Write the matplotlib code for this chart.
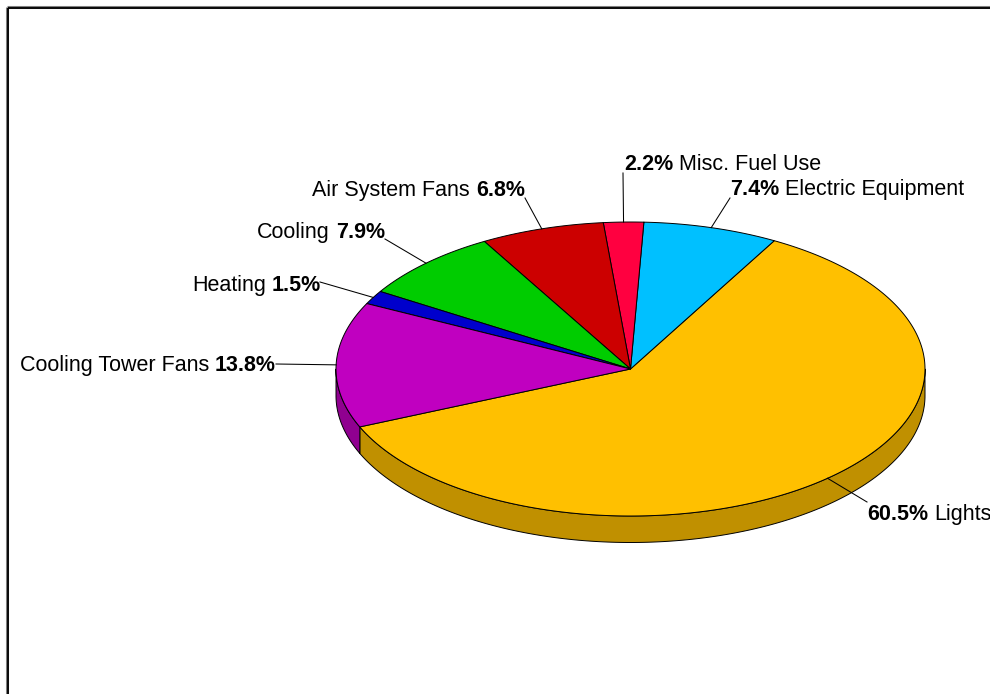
import numpy as np
import matplotlib
matplotlib.use("Agg")
import matplotlib.pyplot as plt
from matplotlib.patches import Polygon

# ---- data ----
categories = ["Lights", "Electric Equipment", "Misc. Fuel Use", "Air System Fans",
              "Cooling", "Heating", "Cooling Tower Fans"]
shares = [60.5, 7.4, 2.2, 6.8, 7.9, 1.5, 13.8]
top_colors = ["#FFC000", "#00C0FF", "#FF0040", "#CC0000", "#00CC00", "#0000CC", "#C000C0"]
side_colors = ["#C09000", "#0090C0", "#C00030", "#990000", "#009900", "#000099", "#900090"]

# ---- layout (pixels) ----
W, H = 990, 694
cx, cy, rx, ry, depth = 630.5, 369.0, 294.5, 147.0, 26.5
start_angle = -156.8
leader_end = [(867, 502), (730, 198), (623, 173), (525, 198), (385, 239), (320, 282), (276, 364)]
text_x = [867, 730, 624, 525, 385, 321, 276]
text_base = [520, 194.5, 170, 195.5, 237.5, 290.5, 371]
text_side = ['R', 'R', 'R', 'L', 'L', 'L', 'L']
FS = 15.5
plt.rcParams['font.family'] = ['Liberation Sans', 'DejaVu Sans']

fig = plt.figure(figsize=(W / 100, H / 100), dpi=100)
ax = fig.add_axes([0, 0, 1, 1])
ax.set_xlim(0, W)
ax.set_ylim(H, 0)
ax.axis('off')

def pt(theta_deg, dy=0.0):
    t = np.radians(theta_deg)
    return cx + rx * np.cos(t), cy - ry * np.sin(t) + dy

vals = np.array(shares, dtype=float)
spans = vals / vals.sum() * 360.0
edges = start_angle + np.concatenate([[0], np.cumsum(spans)])

# sides (visible front half: sin(theta) < 0)
for i in range(len(vals)):
    a, b = edges[i], edges[i + 1]
    for k in (-1, 0, 1):
        lo, hi = max(a, -180 + 360 * k), min(b, 0 + 360 * k)
        if hi > lo:
            th = np.linspace(lo, hi, 200)
            xs, ys = pt(th)
            xb, yb = pt(th[::-1], depth)
            poly = np.column_stack([np.concatenate([xs, xb]), np.concatenate([ys, yb])])
            ax.add_patch(Polygon(poly, closed=True, facecolor=side_colors[i],
                                 edgecolor='black', lw=0.7, zorder=1, joinstyle='round'))

# tops
for i in range(len(vals)):
    a, b = edges[i], edges[i + 1]
    th = np.linspace(a, b, 300)
    xs, ys = pt(th)
    poly = np.column_stack([np.concatenate([[cx], xs]), np.concatenate([[cy], ys])])
    ax.add_patch(Polygon(poly, closed=True, facecolor=top_colors[i],
                         edgecolor='black', lw=0.7, zorder=2, joinstyle='round'))

# labels and leaders
fig.canvas.draw()
renderer = fig.canvas.get_renderer()
for i, name in enumerate(categories):
    mid = (edges[i] + edges[i + 1]) / 2
    x0, y0 = pt(mid)
    ex, ey = leader_end[i]
    ax.plot([x0, ex], [y0, ey], color='black', lw=0.75, zorder=3)
    pct = f"{shares[i]:.1f}%"
    if text_side[i] == 'R':
        t1 = ax.text(text_x[i], text_base[i], pct, fontsize=FS, fontweight='bold',
                     ha='left', va='baseline', zorder=4)
        w = t1.get_window_extent(renderer).width
        ax.text(text_x[i] + w + 6, text_base[i], name, fontsize=FS,
                ha='left', va='baseline', zorder=4)
    else:
        t1 = ax.text(text_x[i], text_base[i], pct, fontsize=FS, fontweight='bold',
                     ha='right', va='baseline', zorder=4)
        w = t1.get_window_extent(renderer).width
        ax.text(text_x[i] - w - 6, text_base[i], name, fontsize=FS,
                ha='right', va='baseline', zorder=4)

# frame (only top and left edges visible)
ax.plot([6.5, 6.5], [6.5, H + 5], color='#808080', lw=2.2, zorder=5, solid_capstyle='butt')
ax.plot([6.5, W + 5], [6.5, 6.5], color='#808080', lw=2.2, zorder=5, solid_capstyle='butt')
ax.plot([7.5, 7.5], [7.5, H + 5], color='black', lw=1.3, zorder=6, solid_capstyle='butt')
ax.plot([7.5, W + 5], [7.5, 7.5], color='black', lw=1.3, zorder=6, solid_capstyle='butt')

fig.savefig("out.png", dpi=100)
